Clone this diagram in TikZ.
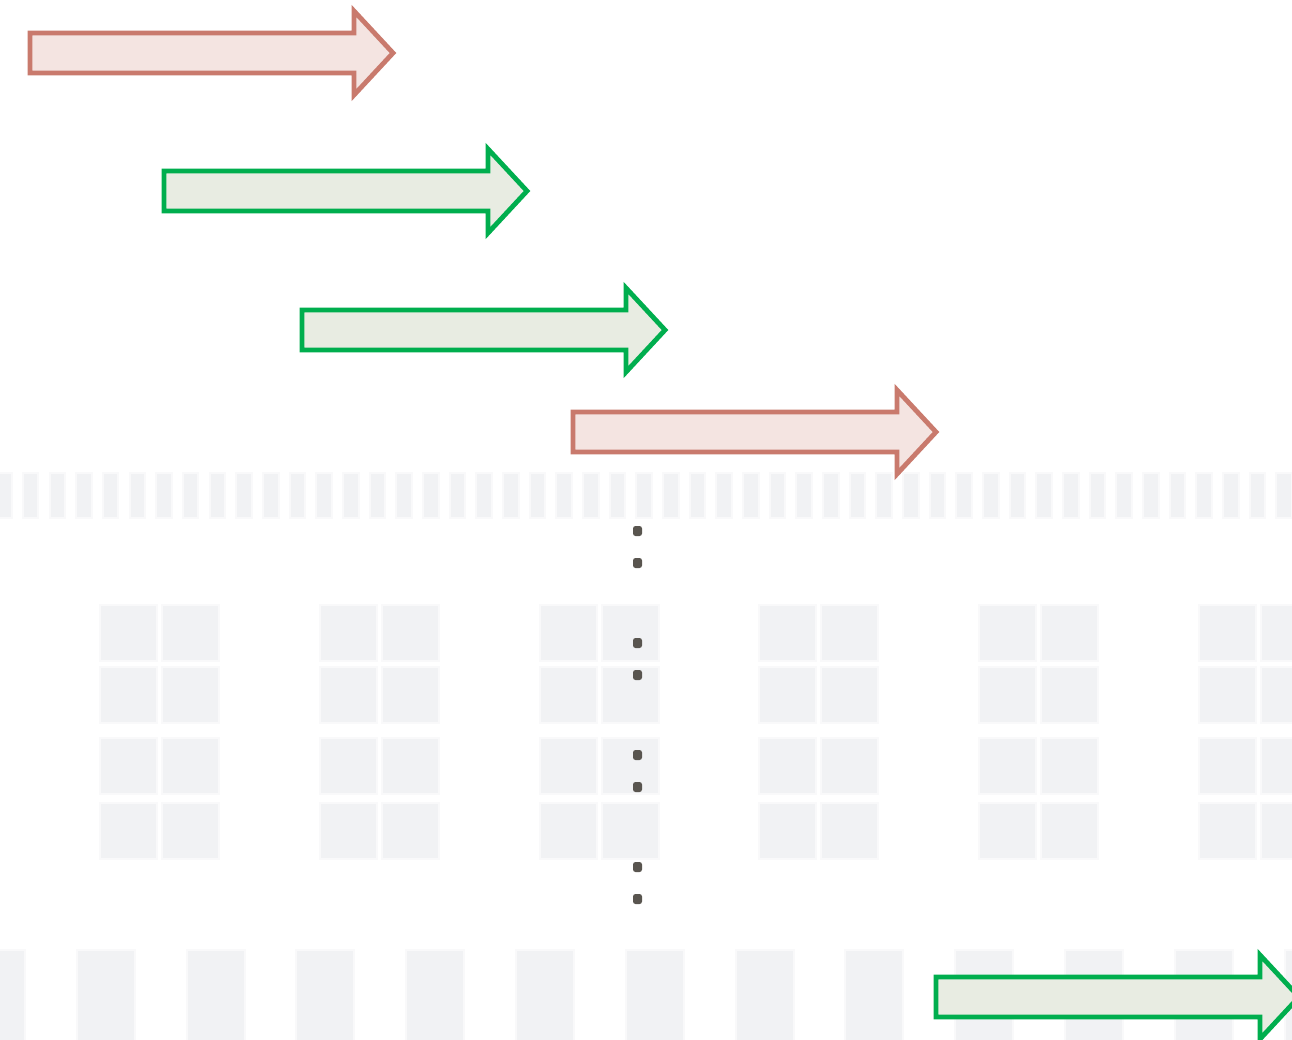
\documentclass[tikz,border=0pt]{standalone}
\usepackage{tikz}
\begin{document}
\definecolor{redline}{HTML}{C97A6D}
\definecolor{redfill}{HTML}{F4E4E1}
\definecolor{greenline}{HTML}{00AE4E}
\definecolor{greenfill}{HTML}{E8ECE2}
\definecolor{cellcore}{HTML}{F1F2F4}
\definecolor{cellhalo}{HTML}{F9F9FA}
\definecolor{dotgray}{HTML}{59554F}
\tikzset{
  halo/.style={fill=cellhalo, draw=none},
  core/.style={fill=cellcore, draw=none},
  redarrow/.style={draw=redline, fill=redfill, line width=4.8pt, miter limit=10},
  greenarrow/.style={draw=greenline, fill=greenfill, line width=4.8pt, miter limit=10},
  dotmark/.style={fill=dotgray, draw=none, rounded corners=2.5pt}
}
% block arrow: left end x, axis y, style
\newcommand{\blockarrow}[3]{%
  \draw[#3] (#1,#2-20) -- ++(324,0) -- ++(0,-22) -- (#1+363,#2) -- (#1+324,#2+42)
    -- ++(0,-22) -- (#1,#2+20) -- cycle;}
% lightly haloed cell: x, y, width, height
\newcommand{\cell}[4]{%
  \fill[halo] (#1-2,#2-2) rectangle ++(#3+4,#4+4);
  \fill[core] (#1,#2) rectangle ++(#3,#4);}
\begin{tikzpicture}[x=1pt,y=-1pt]
\useasboundingbox (0,0) rectangle (1292,1039);
\fill[white] (0,0) rectangle (1292,1039);
\begin{scope}
\clip (0,0) rectangle (1292,1039);
% thin column strip
\foreach \i in {0,...,48} {
  \pgfmathsetmacro{\sx}{-2.7+26.67*\i}
  \cell{\sx}{474}{13.5}{43}
}
% 2x2 cell blocks, two tiers
\foreach \b in {0,...,5} {
  \pgfmathsetmacro{\bx}{101+219.8*\b}
  \foreach \r in {606,668,739,804} {
    \cell{\bx}{\r}{55}{54}
    \cell{\bx+62}{\r}{55}{54}
  }
}
% wide column strip at the bottom
\foreach \i in {0,...,12} {
  \pgfmathsetmacro{\wx}{-32+109.8*\i}
  \cell{\wx}{951}{56}{100}
}
% vertical ellipsis dots
\foreach \d in {531,563,643,675,755,787,867,899} {
  \fill[dotmark] (633,\d-5) rectangle ++(9,10);
}
% staggered block arrows
\blockarrow{30}{53}{redarrow}
\blockarrow{164}{191}{greenarrow}
\blockarrow{302}{330}{greenarrow}
\blockarrow{573}{432}{redarrow}
\blockarrow{936}{997}{greenarrow}
\end{scope}
\end{tikzpicture}
\end{document}
